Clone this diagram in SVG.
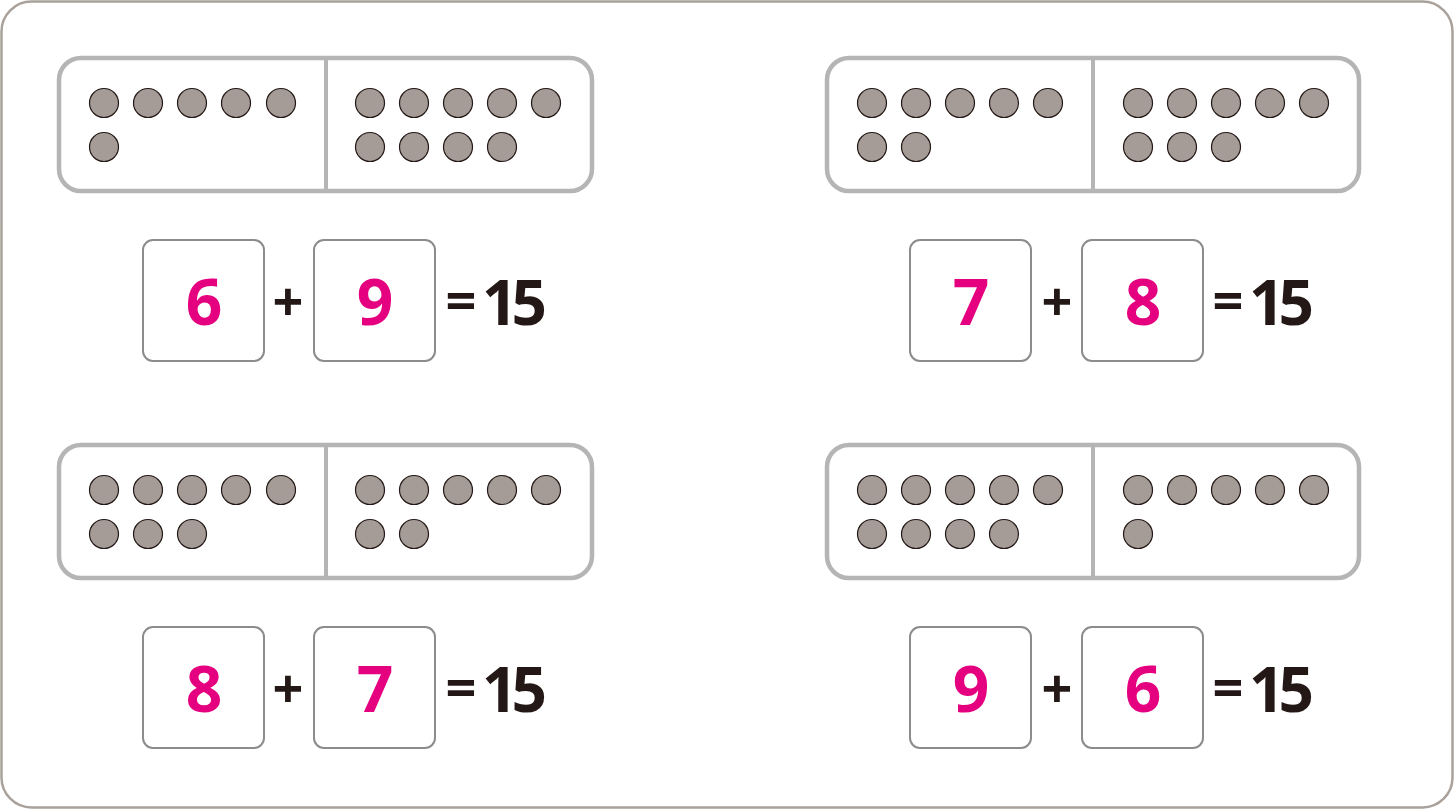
<svg xmlns="http://www.w3.org/2000/svg" width="1454" height="810" viewBox="0 0 1454 810">
<style>
.frame{fill:#fff;stroke:#a9a19b;stroke-width:2.5}
.dom{fill:#fff;stroke:#b5b5b5;stroke-width:4.5}
.div{stroke:#b5b5b5;stroke-width:4}
.dot{fill:#a59c97;stroke:#231815;stroke-width:1.2}
.box{fill:#fff;stroke:#8c8c8c;stroke-width:2}
.num{font-family:"Noto Sans","Liberation Sans",sans-serif;font-weight:bold;font-size:64px;fill:#e4007f;text-anchor:middle}
.op{font-family:"Noto Sans","Liberation Sans",sans-serif;font-weight:bold;font-size:54px;fill:#231815;text-anchor:middle}
.res{font-family:"Noto Sans","Liberation Sans",sans-serif;font-weight:bold;font-size:62px;fill:#231815;letter-spacing:-6px}
</style>
<defs>
<circle id="d" r="14.5" class="dot"/>
</defs>
<rect class="frame" x="1.5" y="1.5" width="1451" height="806" rx="30"/>

<g id="domino1">
<rect class="dom" x="59" y="58" width="533" height="133" rx="22"/>
<line class="div" x1="326" y1="58" x2="326" y2="191"/>
<use href="#d" x="104" y="103"/><use href="#d" x="148" y="103"/><use href="#d" x="192" y="103"/><use href="#d" x="236" y="103"/><use href="#d" x="281" y="103"/>
<use href="#d" x="104" y="147"/>
<use href="#d" x="370" y="103"/><use href="#d" x="414" y="103"/><use href="#d" x="458" y="103"/><use href="#d" x="502" y="103"/><use href="#d" x="546" y="103"/>
<use href="#d" x="370" y="147"/><use href="#d" x="414" y="147"/><use href="#d" x="458" y="147"/><use href="#d" x="502" y="147"/>
</g>
<g id="eq1">
<rect class="box" x="143" y="240" width="121" height="121" rx="10"/>
<rect class="box" x="314" y="240" width="121" height="121" rx="10"/>
<text class="num" x="204" y="325">6</text>
<text class="op" x="288" y="321">+</text>
<text class="num" x="375" y="325">9</text>
<text class="op" x="461" y="320">=</text>
<text class="res" x="482" y="325">15</text>
</g>

<g id="domino2">
<rect class="dom" x="827" y="58" width="532" height="133" rx="22"/>
<line class="div" x1="1093" y1="58" x2="1093" y2="191"/>
<use href="#d" x="872" y="103"/><use href="#d" x="916" y="103"/><use href="#d" x="960" y="103"/><use href="#d" x="1004" y="103"/><use href="#d" x="1048" y="103"/>
<use href="#d" x="872" y="147"/><use href="#d" x="916" y="147"/>
<use href="#d" x="1138" y="103"/><use href="#d" x="1182" y="103"/><use href="#d" x="1226" y="103"/><use href="#d" x="1270" y="103"/><use href="#d" x="1314" y="103"/>
<use href="#d" x="1138" y="147"/><use href="#d" x="1182" y="147"/><use href="#d" x="1226" y="147"/>
</g>
<g id="eq2">
<rect class="box" x="910" y="240" width="121" height="121" rx="10"/>
<rect class="box" x="1082" y="240" width="121" height="121" rx="10"/>
<text class="num" x="971" y="325">7</text>
<text class="op" x="1057" y="321">+</text>
<text class="num" x="1143" y="325">8</text>
<text class="op" x="1228" y="320">=</text>
<text class="res" x="1249" y="325">15</text>
</g>

<g id="domino3">
<rect class="dom" x="59" y="445" width="533" height="133" rx="22"/>
<line class="div" x1="326" y1="445" x2="326" y2="578"/>
<use href="#d" x="104" y="490"/><use href="#d" x="148" y="490"/><use href="#d" x="192" y="490"/><use href="#d" x="236" y="490"/><use href="#d" x="281" y="490"/>
<use href="#d" x="104" y="534"/><use href="#d" x="148" y="534"/><use href="#d" x="192" y="534"/>
<use href="#d" x="370" y="490"/><use href="#d" x="414" y="490"/><use href="#d" x="458" y="490"/><use href="#d" x="502" y="490"/><use href="#d" x="546" y="490"/>
<use href="#d" x="370" y="534"/><use href="#d" x="414" y="534"/>
</g>
<g id="eq3">
<rect class="box" x="143" y="627" width="121" height="121" rx="10"/>
<rect class="box" x="314" y="627" width="121" height="121" rx="10"/>
<text class="num" x="204" y="712">8</text>
<text class="op" x="288" y="708">+</text>
<text class="num" x="375" y="712">7</text>
<text class="op" x="461" y="707">=</text>
<text class="res" x="482" y="712">15</text>
</g>

<g id="domino4">
<rect class="dom" x="827" y="445" width="532" height="133" rx="22"/>
<line class="div" x1="1093" y1="445" x2="1093" y2="578"/>
<use href="#d" x="872" y="490"/><use href="#d" x="916" y="490"/><use href="#d" x="960" y="490"/><use href="#d" x="1004" y="490"/><use href="#d" x="1048" y="490"/>
<use href="#d" x="872" y="534"/><use href="#d" x="916" y="534"/><use href="#d" x="960" y="534"/><use href="#d" x="1004" y="534"/>
<use href="#d" x="1138" y="490"/><use href="#d" x="1182" y="490"/><use href="#d" x="1226" y="490"/><use href="#d" x="1270" y="490"/><use href="#d" x="1314" y="490"/>
<use href="#d" x="1138" y="534"/>
</g>
<g id="eq4">
<rect class="box" x="910" y="627" width="121" height="121" rx="10"/>
<rect class="box" x="1082" y="627" width="121" height="121" rx="10"/>
<text class="num" x="971" y="712">9</text>
<text class="op" x="1057" y="708">+</text>
<text class="num" x="1143" y="712">6</text>
<text class="op" x="1228" y="707">=</text>
<text class="res" x="1249" y="712">15</text>
</g>
</svg>
